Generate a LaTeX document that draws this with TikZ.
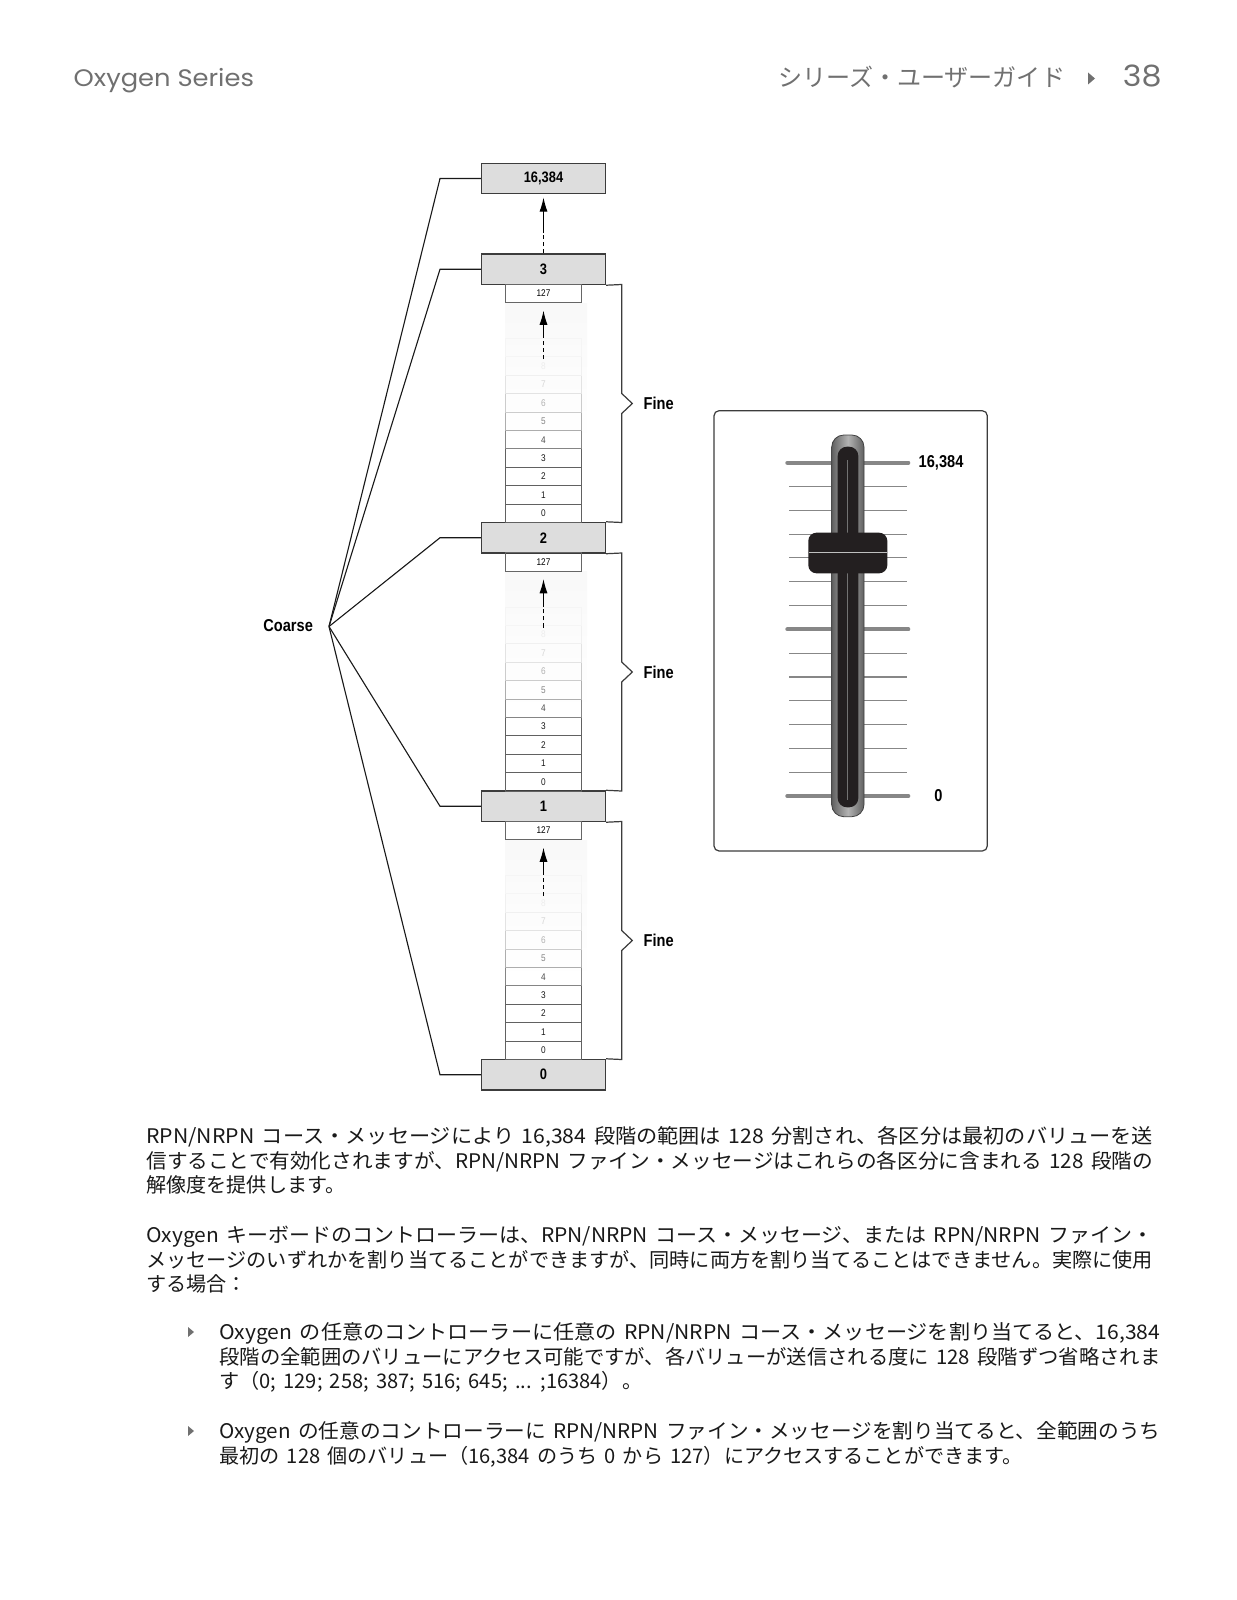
\documentclass[tikz,border=0pt]{standalone}
\usepackage{fontspec}
\usepackage{graphicx}
\newfontfamily\condfont{Liberation Sans}[FakeStretch=0.85]
\newfontfamily\jpfont{Noto Sans CJK JP}[WordSpace=1.6]
\newfontfamily\hdrfont{Poppins}[FakeStretch=1.08]
\usepackage{tikz}
\usetikzlibrary{arrows.meta, positioning, calc}
\definecolor{boxgray}{RGB}{221,221,221}
\definecolor{linegray}{RGB}{60,60,60}
\definecolor{tickgray}{RGB}{135,135,135}
\definecolor{knobblack}{RGB}{35,31,32}
\definecolor{hdrgray}{RGB}{112,112,112}
\newlength{\parawd}\setlength{\parawd}{498pt}
\newlength{\bulwd}\setlength{\bulwd}{465.5pt}
\newcommand{\jfull}[2]{\resizebox{#1}{\height}{#2}}

\begin{document}
\begin{tikzpicture}[x=0.4947pt, y=-0.4947pt,
  cbox/.style={draw=linegray, fill=boxgray, line width=0.7pt, minimum width=61.3pt, minimum height=15.1pt, inner sep=0pt, font=\condfont\bfseries\fontsize{7.5}{8}\selectfont},
  fcell/.style={minimum width=37.9pt, minimum height=9.1pt, inner sep=0pt, line width=0.45pt, font=\condfont\fontsize{4.8}{5}\selectfont},
  lbl/.style={inner sep=0pt, font=\condfont\bfseries\fontsize{8.5}{9}\selectfont},
  link/.style={line width=0.55pt, draw=black!90},
  brace/.style={line width=0.6pt, draw=linegray},
  climb/.style={line width=0.55pt, -{Latex[length=7pt,width=4pt]}},
  climbdash/.style={line width=0.55pt, dash pattern=on 2pt off 1.5pt},
  minortick/.style={draw=tickgray, line width=0.5pt},
  majortick/.style={draw=tickgray, line width=2pt, line cap=round},
  jline/.style={anchor=base west, inner sep=0pt, text=black!90, font=\jpfont\fontsize{9.95}{12}\selectfont},
  hdr/.style={anchor=base west, inner sep=0pt, text=hdrgray}
]
\useasboundingbox (0,0) rectangle (1237,1600);

% page header
\node[hdr, font=\hdrfont\fontsize{11.8}{13}\selectfont] (series) at (73.3,86.7) {Oxygen Series};
\node[hdr, font=\jpfont\fontsize{11.9}{13}\selectfont] (guide) at (777.7,86.7) {シリーズ・ユーザーガイド};
\fill[hdrgray] (1088,72.5) -- (1095,78.5) -- (1088,84.5) -- cycle;
\node[hdr, anchor=base east, font=\hdrfont\fontsize{14.5}{16}\selectfont] (page) at (1162,86.7) {38};

% coarse steps
\node[cbox] (top) at (543.5,178.5) {16,384};
\foreach \k/\T in {3/254,2/522.5,1/791,0/1059.5}
  \node[cbox] (c\k) at (543.5,\T+15.25) {\k};

\coordinate (tm) at (543.5,233);
\draw[climbdash] (c3.north) -- (tm);
\draw[climb, shorten >=1.5pt] (tm) -- (top.south);

% fine steps between coarse steps
\foreach \k/\T/\j in {3/254/2,2/522.5/1,1/791/0}{
  \shade[top color=black!2.5, bottom color=white] (505,\T+49) rectangle (587,\T+190);
  \node[fcell, draw=black!60] (f\k-top) at (543.5,\T+39.5) {127};
  \foreach \n/\bd/\tx in {0/62/90,1/62/90,2/62/90,3/62/90,4/48/70,5/32/48,6/20/30,7/11/16,8/6/7,9/4/0}
    \node[fcell, draw=black!\bd, text=black!\tx] (f\k-\n) at (543.5,\T+259.3-18.4*\n) {\ifnum\n<9 \n\fi};
  \coordinate (t\k) at (543.5,\T+105);
  \coordinate (m\k) at (543.5,\T+83);
  \draw[climbdash] (t\k) -- (m\k);
  \draw[climb, shorten >=3.7pt] (m\k) -- (f\k-top.south);
  \draw[brace] (c\k.south east) -- (621.7,\T+30.5) -- (621.7,\T+139.5) -- (632.3,\T+149.5)
    -- (621.7,\T+159.5) -- (621.7,\T+268.5) -- (c\j.north east);
  \node[lbl, anchor=west] (fine\k) at (643.3,\T+149.5) {Fine};
}

% coarse fan
\node[lbl, anchor=east] (coarse) at (313.3,626) {Coarse};
\coordinate (hub) at (329,626.5);
\coordinate (elb) at (440,0);
\foreach \b in {top,c3,c2,c1,c0}
  \draw[link] (hub) -- (\b.west -| elb) -- (\b.west);

% fader
\draw[linegray, line width=0.6pt, rounded corners=2.5pt] (714,410.7) rectangle (987.3,851);
\foreach \i in {1,2,3,4,5,6,8,9,10,11,12,13}
  \draw[minortick] (789.3,462.7+23.81*\i) -- (906.7,462.7+23.81*\i);
\foreach \i in {0,7,14}
  \draw[majortick] (787.3,462.7+23.81*\i) -- (908.3,462.7+23.81*\i);
\shade[left color=black!62, right color=black!62, middle color=black!30, rounded corners=6pt] (831.7,435) rectangle (864,816.7);
\draw[black!75, line width=0.4pt, rounded corners=6pt] (831.7,435) rectangle (864,816.7);
\fill[knobblack, rounded corners=4.5pt] (837.7,446.7) rectangle (858.3,807.3);
\draw[black!55, line width=0.5pt] (847.7,460) -- (847.7,800);
\fill[knobblack, rounded corners=4pt] (808.3,532.7) rectangle (887.3,573.3);
\draw[black!25, line width=0.5pt] (809,552.7) -- (886.5,552.7);
\node[lbl, anchor=west] (smax) at (918.3,462.7) {16,384};
\node[lbl] (smin) at (938.3,796) {0};

% body text
\node[jline] (p1a) at (146,1143.7) {\jfull\parawd{RPN/NRPN コース・メッセージにより 16,384 段階の範囲は 128 分割され、各区分は最初のバリューを送}};
\node[jline] (p1b) at (146,1168.2) {\jfull\parawd{信することで有効化されますが、RPN/NRPN ファイン・メッセージはこれらの各区分に含まれる 128 段階の}};
\node[jline] (p1c) at (146,1192.7) {解像度を提供します。};

\node[jline] (p2a) at (146,1242.7) {\jfull\parawd{Oxygen キーボードのコントローラーは、RPN/NRPN コース・メッセージ、または RPN/NRPN ファイン・}};
\node[jline] (p2b) at (146,1267.2) {\jfull\parawd{メッセージのいずれかを割り当てることができますが、同時に両方を割り当てることはできません。実際に使用}};
\node[jline] (p2c) at (146,1291.7) {する場合：};

\fill[hdrgray] (188,1327) -- (194,1332) -- (188,1337) -- cycle;
\node[jline] (b1a) at (219,1339.7) {\jfull\bulwd{Oxygen の任意のコントローラーに任意の RPN/NRPN コース・メッセージを割り当てると、16,384}};
\node[jline] (b1b) at (219,1364.2) {\jfull\bulwd{段階の全範囲のバリューにアクセス可能ですが、各バリューが送信される度に 128 段階ずつ省略されま}};
\node[jline] (b1c) at (219,1388.7) {す（0; 129; 258; 387; 516; 645; ... ;16384）。};

\fill[hdrgray] (188,1426) -- (194,1431) -- (188,1436) -- cycle;
\node[jline] (b2a) at (219,1438.7) {\jfull\bulwd{Oxygen の任意のコントローラーに RPN/NRPN ファイン・メッセージを割り当てると、全範囲のうち}};
\node[jline] (b2b) at (219,1463.2) {最初の 128 個のバリュー（16,384 のうち 0 から 127）にアクセスすることができます。};
\end{tikzpicture}
\end{document}
